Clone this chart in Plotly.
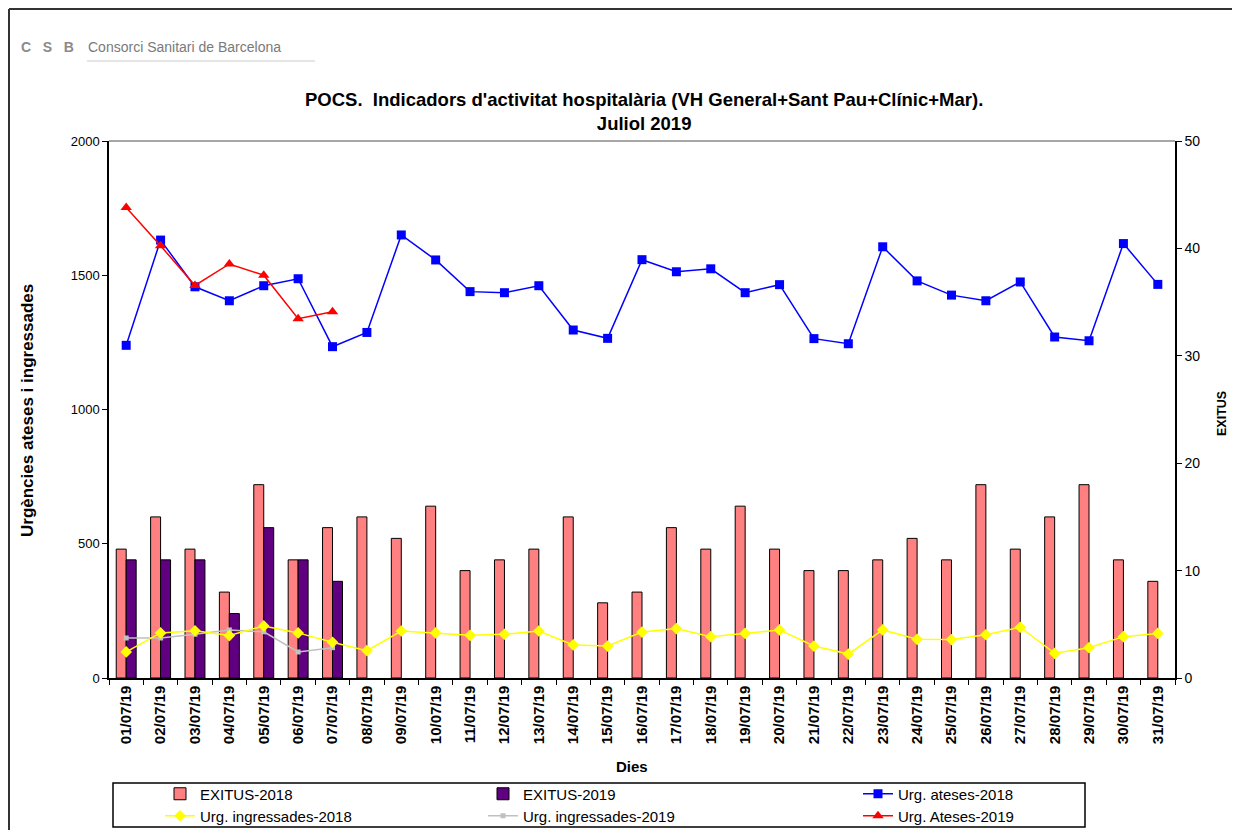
import plotly.graph_objects as go

days = ["01/07/19", "02/07/19", "03/07/19", "04/07/19", "05/07/19", "06/07/19", "07/07/19",
        "08/07/19", "09/07/19", "10/07/19", "11/07/19", "12/07/19", "13/07/19", "14/07/19",
        "15/07/19", "16/07/19", "17/07/19", "18/07/19", "19/07/19", "20/07/19", "21/07/19",
        "22/07/19", "23/07/19", "24/07/19", "25/07/19", "26/07/19", "27/07/19", "28/07/19",
        "29/07/19", "30/07/19", "31/07/19"]
days_2019 = days[:7]

exitus_2018 = [12, 15, 12, 8, 18, 11, 14, 15, 13, 16, 10, 11, 12, 15, 7, 8, 14, 12, 16, 12,
               10, 10, 11, 13, 11, 18, 12, 15, 18, 11, 9]
exitus_2019 = [11, 11, 11, 6, 14, 11, 9]
ateses_2018 = [1239, 1631, 1457, 1405, 1461, 1487, 1234, 1287, 1650, 1557, 1439, 1435, 1461,
               1296, 1265, 1558, 1513, 1524, 1435, 1465, 1264, 1245, 1606, 1479, 1426, 1405,
               1475, 1270, 1256, 1618, 1466]
ateses_2019 = [1752, 1610, 1462, 1542, 1500, 1338, 1364]
ingr_2018 = [97, 168, 176, 158, 194, 168, 133, 102, 175, 168, 159, 163, 175, 123, 119, 171,
             184, 154, 166, 179, 119, 89, 179, 144, 143, 161, 189, 92, 113, 154, 166]
ingr_2019 = [149, 149, 163, 179, 172, 97, 113]

FONT = "Arial, Liberation Sans, sans-serif"

# figure size; the page shows it with an 8 px body offset (extra room below the window)
OFF = 8
W, H = 1240, 860
# plot area in page pixels
L, R, T, B = 109, 1175, 141, 678


def px(x):
    return (x - L) / (R - L)


def py(y):
    return (B - y) / (B - T)


fig = go.Figure()

fig.add_trace(go.Bar(x=days, y=exitus_2018, name="EXITUS-2018", yaxis="y",
                     marker=dict(color="#FF8080", line=dict(color="black", width=1)),
                     legend="legend", legendrank=1, legendwidth=278))
fig.add_trace(go.Bar(x=days_2019, y=exitus_2019, name="EXITUS-2019", yaxis="y",
                     marker=dict(color="#600080", line=dict(color="black", width=1)),
                     legend="legend", legendrank=2, legendwidth=330))
fig.add_trace(go.Scatter(x=days, y=ateses_2018, name="Urg. ateses-2018", yaxis="y2",
                         mode="lines+markers", line=dict(color="#0000FF", width=1.5),
                         marker=dict(symbol="square", size=9, color="#0000FF"),
                         legend="legend", legendrank=3))
fig.add_trace(go.Scatter(x=days_2019, y=ingr_2019, name="Urg. ingressades-2019", yaxis="y2",
                         mode="lines+markers", line=dict(color="#C0C0C0", width=1.5),
                         marker=dict(symbol="square", size=5, color="#C0C0C0"),
                         legend="legend2", legendrank=2, legendwidth=330))
fig.add_trace(go.Scatter(x=days, y=ingr_2018, name="Urg. ingressades-2018", yaxis="y2",
                         mode="lines+markers", line=dict(color="#FFFF00", width=1.5),
                         marker=dict(symbol="diamond", size=9, color="#FFFF00"),
                         legend="legend2", legendrank=1, legendwidth=278))
fig.add_trace(go.Scatter(x=days_2019, y=ateses_2019, name="Urg. Ateses-2019", yaxis="y2",
                         mode="lines+markers", line=dict(color="#FF0000", width=1.5),
                         marker=dict(symbol="triangle-up", size=10, color="#FF0000"),
                         legend="legend2", legendrank=3))

legend_common = dict(orientation="h", font=dict(family=FONT, size=15, color="black"),
                     bgcolor="rgba(0,0,0,0)", borderwidth=0, yanchor="middle",
                     xanchor="left", x=px(160), traceorder="normal")

shapes = [
    # outer frame
    dict(type="line", xref="paper", yref="paper", x0=px(9), x1=px(1240), y0=py(9), y1=py(9),
         line=dict(color="#333333", width=2)),
    dict(type="line", xref="paper", yref="paper", x0=px(9), x1=px(9), y0=py(9), y1=py(830),
         line=dict(color="#333333", width=2)),
    # top border of plot area
    dict(type="line", xref="paper", yref="paper", x0=0, x1=1, y0=1, y1=1,
         line=dict(color="#888888", width=1.5)),
    # legend box
    dict(type="rect", xref="paper", yref="paper", x0=px(113), x1=px(1085), y0=py(827), y1=py(783),
         line=dict(color="black", width=1.5)),
    # logo underline
    dict(type="line", xref="paper", yref="paper", x0=px(87), x1=px(315), y0=py(61), y1=py(61),
         line=dict(color="#CCCCCC", width=1)),
]

annotations = [
    dict(text="<b>POCS.  Indicadors d'activitat hospitalària (VH General+Sant Pau+Clínic+Mar).</b><br><b>Juliol 2019</b>",
         xref="paper", yref="paper", x=px(644), y=py(112), xanchor="center", yanchor="middle",
         showarrow=False, font=dict(family=FONT, size=18.5, color="black")),
    dict(text="<b>Urgències ateses i ingressades</b>", xref="paper", yref="paper",
         x=px(27), y=py(411), xanchor="center", yanchor="middle", textangle=-90,
         showarrow=False, font=dict(family=FONT, size=17, color="black")),
    dict(text="<b>EXITUS</b>", xref="paper", yref="paper",
         x=px(1222), y=py(414), xanchor="center", yanchor="middle", textangle=-90,
         showarrow=False, font=dict(family=FONT, size=12.5, color="black")),
    dict(text="<b>Dies</b>", xref="paper", yref="paper",
         x=px(632), y=py(766), xanchor="center", yanchor="middle",
         showarrow=False, font=dict(family=FONT, size=15, color="black")),
    dict(text="<b>C&nbsp;&nbsp;&nbsp;S&nbsp;&nbsp;&nbsp;B</b>", xref="paper", yref="paper",
         x=px(19), y=py(47), xanchor="left", yanchor="middle",
         showarrow=False, font=dict(family=FONT, size=14, color="#8A8A8A")),
    dict(text="Consorci Sanitari de Barcelona", xref="paper", yref="paper",
         x=px(86), y=py(47), xanchor="left", yanchor="middle",
         showarrow=False, font=dict(family=FONT, size=14, color="#7A7A7A")),
]

fig.update_layout(
    width=W, height=H,
    margin=dict(l=L - OFF, r=W - (R - OFF), t=T - OFF, b=H - (B - OFF), pad=0),
    paper_bgcolor="white", plot_bgcolor="white",
    font=dict(family=FONT, color="black"),
    barmode="group", bargap=0.42, bargroupgap=0,
    showlegend=True,
    legend=dict(legend_common, y=py(794)),
    legend2=dict(legend_common, y=py(816)),
    xaxis=dict(type="category", categoryorder="array", categoryarray=days,
               range=[-0.5, len(days) - 0.5],
               showline=True, linecolor="black", linewidth=1.5,
               ticks="outside", tickson="boundaries", ticklen=5, tickcolor="black",
               tickangle=-90, tickfont=dict(family=FONT, size=15, color="black", weight="bold"),
               showgrid=False, zeroline=False),
    yaxis=dict(side="right", range=[0, 50], tickvals=[0, 10, 20, 30, 40, 50],
               showline=True, linecolor="black", linewidth=1.5,
               ticks="outside", ticklen=5, tickcolor="black",
               tickfont=dict(family=FONT, size=14, color="black"),
               showgrid=False, zeroline=False),
    yaxis2=dict(side="left", overlaying="y", range=[0, 2000],
                tickvals=[0, 500, 1000, 1500, 2000],
                showline=True, linecolor="black", linewidth=1.5,
                ticks="outside", ticklen=5, tickcolor="black",
                tickfont=dict(family=FONT, size=13, color="black"),
                showgrid=False, zeroline=False),
    shapes=shapes,
    annotations=annotations,
)

fig.write_html("out.html")
